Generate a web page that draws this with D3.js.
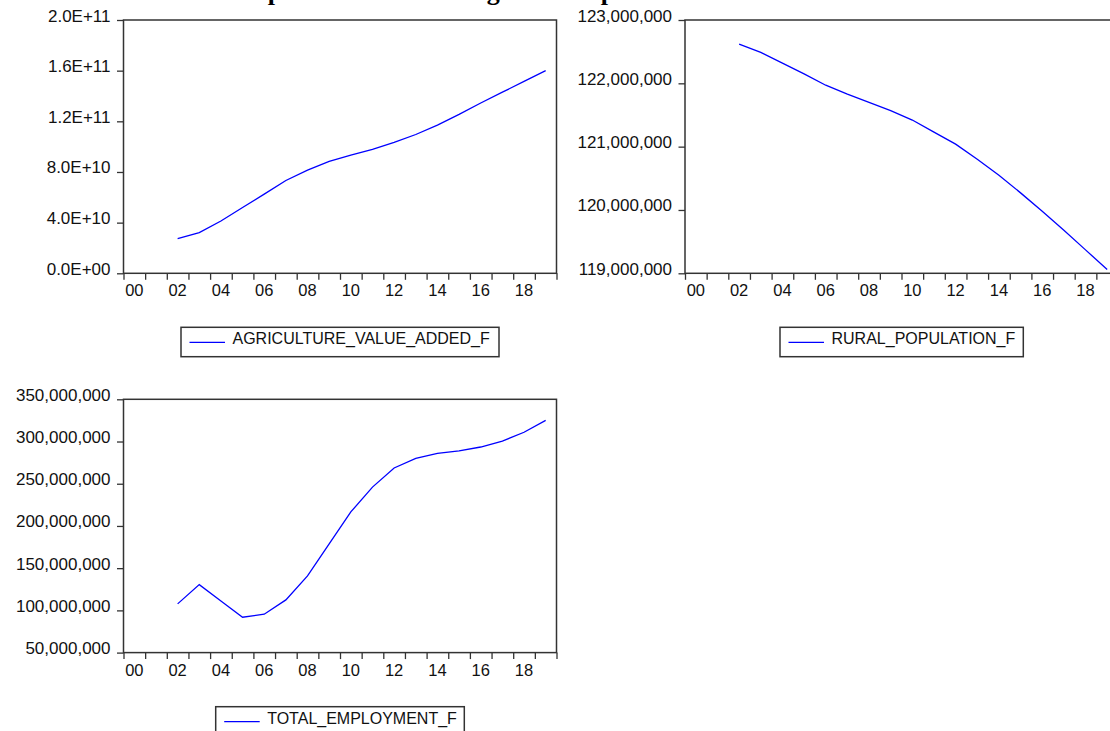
<!DOCTYPE html>
<html>
<head>
<meta charset="utf-8">
<script src="https://cdn.jsdelivr.net/npm/d3@7"></script>
<style>
	body { margin: 0; background: #fff; }
	svg { display: block; font-family: "Liberation Sans", Arial, sans-serif; }
</style>
</head>
<body>
<svg id="chart" width="1110" height="731"></svg>
<script>
var years = [2002, 2003, 2004, 2005, 2006, 2007, 2008, 2009, 2010,
		2011, 2012, 2013, 2014, 2015, 2016, 2017, 2018, 2019]
	;

var agricultureValueAdded = [2.74e10, 3.22e10, 4.13e10, 5.19e10, 6.25e10, 7.33e10, 8.14e10, 8.83e10, 9.33e10,
	9.78e10, 1.033e11, 1.096e11, 1.17e11, 1.255e11, 1.345e11, 1.43e11, 1.515e11, 1.60e11];

var ruralPopulation = [122620000, 122490000, 122320000, 122150000, 121970000, 121830000, 121700000, 121570000, 121420000,
	121230000, 121040000, 120800000, 120550000, 120270000, 119980000, 119680000, 119370000, 119060000];

var totalEmployment = [107700000, 130500000, 111200000, 91900000, 95500000, 112400000, 140800000, 178700000, 216600000,
	246000000, 268700000, 280000000, 286000000, 289000000, 293500000, 300500000, 311000000, 325000000];

var yearLabels = ["00", "02", "04", "06", "08", "10", "12", "14", "16", "18"];
var agricultureTicks = [0, 4e10, 8e10, 1.2e11, 1.6e11, 2e11];
var ruralTicks = [119000000, 120000000, 121000000, 122000000, 123000000];
var employmentTicks = [50000000, 100000000, 150000000, 200000000, 250000000, 300000000, 350000000];
var seriesNames = ["AGRICULTURE_VALUE_ADDED_F", "RURAL_POPULATION_F", "TOTAL_EMPLOYMENT_F"];
var titleText = "Time plots of indicators against the period";

var firstYear = 2000,
	lastYear = 2020,
	boxWidth = 433,
	boxHeight = 253.3,
	axisColor = "#333";

// 2.0E+11 style labels
function sciFormat(v) {
	if (v === 0) {
		return "0.0E+00";
	}
	var exp = Math.floor(Math.log10(v)),
		mant = v / Math.pow(10, exp);
	return mant.toFixed(1) + "E+" + (exp < 10 ? "0" + exp : exp);
}

var svg = d3.select("#chart");

// title sits above the page, only its descenders show
svg.append("text")
	.attr("x", 204)
	.attr("y", 0)
	.attr("font-family", "'Liberation Serif', 'Times New Roman', serif")
	.attr("font-weight", "bold")
	.attr("font-size", 26)
	.text(titleText);

function drawPanel(p) {
	var x = d3.scaleLinear()
		.domain([firstYear, lastYear])
		.range([p.left, p.left + boxWidth]);

	var y = d3.scaleLinear()
		.domain([p.ticks[0], p.ticks[p.ticks.length - 1]])
		.range([p.top + boxHeight, p.top]);

	var g = svg.append("g");

	var xAxis = d3.axisBottom(x)
		.tickValues(d3.range(firstYear, lastYear + 1))
		.tickSize(6.5)
		.tickSizeOuter(0)
		.tickFormat("");

	var yAxis = d3.axisLeft(y)
		.tickValues(p.ticks)
		.tickSize(6.5)
		.tickSizeOuter(0)
		.tickFormat(p.format);

	var gx = g.append("g")
		.attr("transform", "translate(0," + (p.top + boxHeight) + ")")
		.call(xAxis);
	gx.select(".domain").remove();
	gx.selectAll("line").attr("stroke", axisColor).attr("stroke-width", 1.3);

	var gy = g.append("g")
		.attr("transform", "translate(" + p.left + ",0)")
		.call(yAxis);
	gy.select(".domain").remove();
	gy.selectAll("line").attr("stroke", axisColor).attr("stroke-width", 1.3);
	gy.selectAll("text")
		.attr("x", -13)
		.attr("dy", 1)
		.attr("fill", "#111")
		.attr("font-size", 17)
		.attr("font-family", "'Liberation Sans', Arial, sans-serif");

	g.selectAll(".xlab")
		.data(yearLabels)
		.enter()
			.append("text")
				.attr("class", "xlab")
				.attr("x", function(d) { return x(2000 + (+d) + 0.5); })
				.attr("y", p.top + boxHeight + 23)
				.attr("text-anchor", "middle")
				.attr("font-size", 16.5)
				.attr("fill", "#111")
				.text(function(d) { return d; });

	g.append("rect")
		.attr("x", p.left)
		.attr("y", p.top)
		.attr("width", boxWidth)
		.attr("height", boxHeight)
		.attr("fill", "none")
		.attr("stroke", axisColor)
		.attr("stroke-width", 1.5);

	var line = d3.line()
		.x(function(d, i) { return x(years[i] + 0.5); })
		.y(function(d) { return y(d); });

	g.append("path")
		.datum(p.values)
		.attr("d", line)
		.attr("fill", "none")
		.attr("stroke", "#0000ff")
		.attr("stroke-width", 1.3);

	// legend
	var lg = p.legend;
	g.append("rect")
		.attr("x", lg.x)
		.attr("y", lg.y)
		.attr("width", lg.w)
		.attr("height", 29.4)
		.attr("fill", "#fff")
		.attr("stroke", axisColor)
		.attr("stroke-width", 1.5);
	g.append("line")
		.attr("x1", lg.x + 8.5)
		.attr("x2", lg.x + 44)
		.attr("y1", lg.y + 15)
		.attr("y2", lg.y + 15)
		.attr("stroke", "#0000ff")
		.attr("stroke-width", 1.3);
	g.append("text")
		.attr("x", lg.x + 51.5)
		.attr("y", lg.y + 17)
		.attr("font-size", 16)
		.attr("fill", "#111")
		.text(p.name);
}

drawPanel({
	left: 123.5, top: 20,
	values: agricultureValueAdded, ticks: agricultureTicks, format: sciFormat,
	name: seriesNames[0],
	legend: {x: 181, y: 327.3, w: 318}
});

drawPanel({
	left: 685, top: 20,
	values: ruralPopulation, ticks: ruralTicks, format: d3.format(","),
	name: seriesNames[1],
	legend: {x: 780, y: 327.3, w: 243.3}
});

drawPanel({
	left: 123.5, top: 399.3,
	values: totalEmployment, ticks: employmentTicks, format: d3.format(","),
	name: seriesNames[2],
	legend: {x: 215.7, y: 706.7, w: 248.6}
});
</script>
</body>
</html>
